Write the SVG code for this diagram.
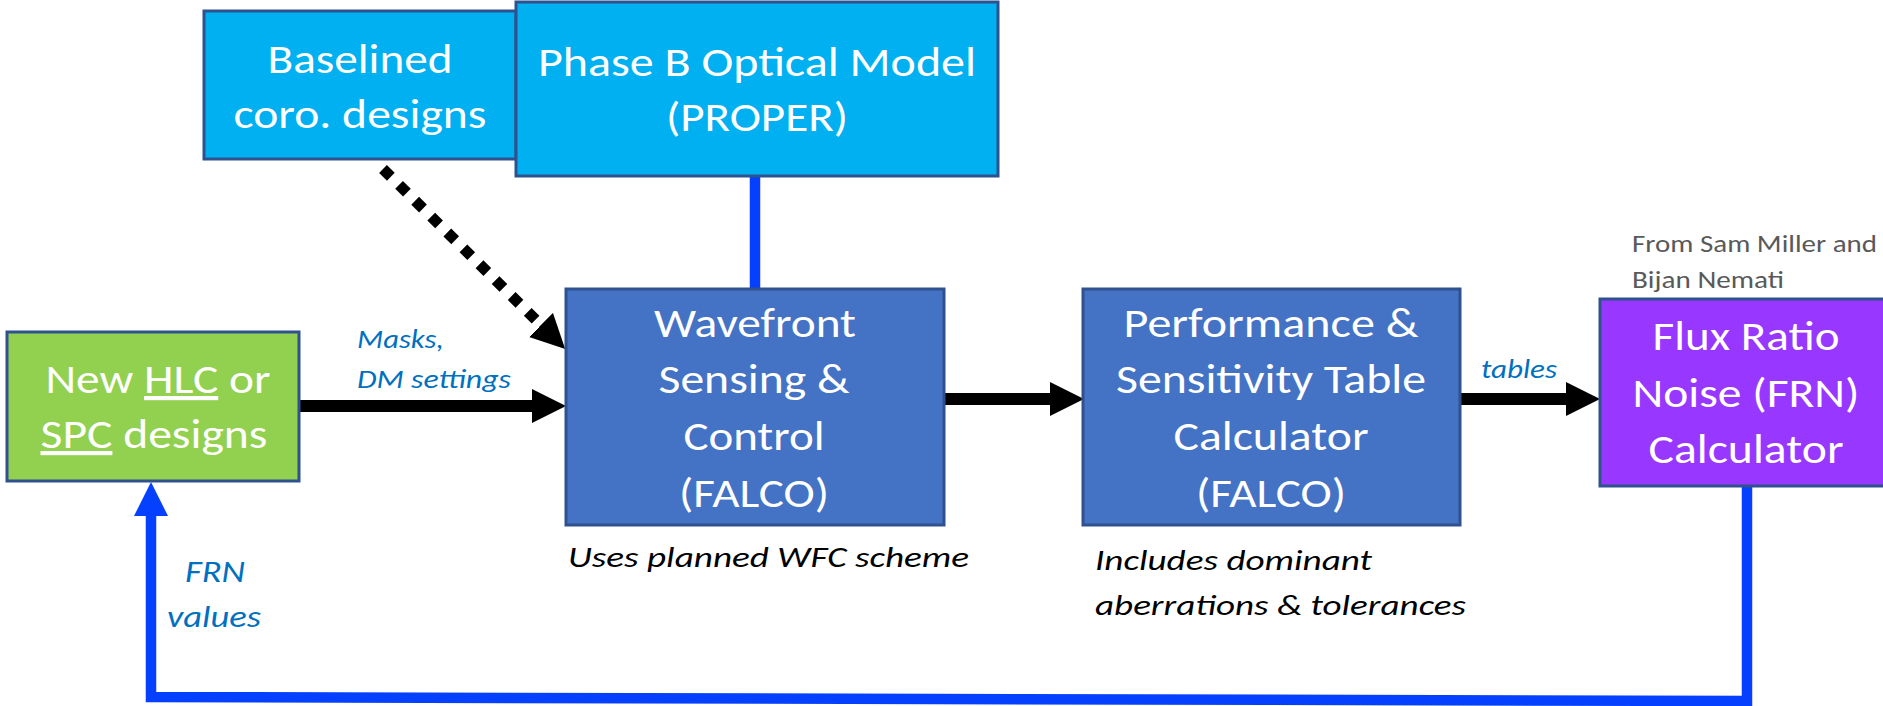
<svg xmlns="http://www.w3.org/2000/svg" width="1883" height="706" viewBox="0 0 1883 706">
  <defs>
    <style>
      .box { stroke: #2F528F; stroke-width: 3; }
      .lt { fill: #00B0F0; }
      .dk { fill: #4472C4; }
      .gr { fill: #92D050; }
      .pu { fill: #9737FF; }
      .bt { font-family: Carlito, Lato, "Liberation Sans", sans-serif; font-size: 42px; fill: #FFFFFF; text-anchor: middle; }
      .lab { font-family: Carlito, Lato, "Liberation Sans", sans-serif; font-style: italic; fill: #0070C0; font-size: 26px; }
      .note { font-family: Carlito, Lato, "Liberation Sans", sans-serif; font-style: italic; fill: #000000; font-size: 29px; }
      .src { font-family: Carlito, Lato, "Liberation Sans", sans-serif; fill: #595959; font-size: 25px; }
      .blk { stroke: #000000; stroke-width: 12; fill: none; }
      .blu { stroke: #0540FF; stroke-width: 10.5; fill: none; }
    </style>
    <marker id="ahk" viewBox="0 0 34 34" markerWidth="34" markerHeight="34" refX="0" refY="17" orient="auto" markerUnits="userSpaceOnUse">
      <path d="M0,0 L34,17 L0,34 Z" fill="#000000"/>
    </marker>
    <marker id="ahb" viewBox="0 0 34 34" markerWidth="34" markerHeight="34" refX="0" refY="17" orient="auto" markerUnits="userSpaceOnUse">
      <path d="M0,0 L34,17 L0,34 Z" fill="#0540FF"/>
    </marker>
  </defs>
  <rect width="1883" height="706" fill="#FFFFFF"/>

  <g id="connectors">
    <line class="blu" x1="755" y1="170" x2="755" y2="290"/>
    <path class="blu" d="M1747,480 L1747,701 L151,697 L151,516" stroke-linejoin="miter" marker-end="url(#ahb)"/>
    <line class="blk" x1="298" y1="406" x2="532" y2="406" marker-end="url(#ahk)"/>
    <line class="blk" x1="942" y1="399" x2="1050" y2="399" marker-end="url(#ahk)"/>
    <line class="blk" x1="1458" y1="399" x2="1566" y2="399" marker-end="url(#ahk)"/>
    <line x1="383" y1="169" x2="541" y2="325" stroke="#000000" stroke-width="11" stroke-dasharray="11 11.6" marker-end="url(#ahk)"/>
  </g>

  <g id="baselined">
    <rect class="box lt" x="204" y="11" width="312" height="148"/>
    <text class="bt" x="360" y="73" textLength="185" lengthAdjust="spacingAndGlyphs">Baselined</text>
    <text class="bt" x="360" y="128" textLength="253" lengthAdjust="spacingAndGlyphs">coro. designs</text>
  </g>

  <g id="phaseb">
    <rect class="box lt" x="516" y="2" width="482" height="174"/>
    <text class="bt" x="757" y="76" textLength="438" lengthAdjust="spacingAndGlyphs">Phase B Optical Model</text>
    <text class="bt" x="757" y="131" textLength="182" lengthAdjust="spacingAndGlyphs">(PROPER)</text>
  </g>

  <g id="newdesigns">
    <rect class="box gr" x="7" y="332" width="292" height="149"/>
    <text class="bt" x="158" y="393" textLength="225" lengthAdjust="spacingAndGlyphs">New <tspan style="text-decoration:underline">HLC</tspan> or</text>
    <text class="bt" x="154" y="448" textLength="227" lengthAdjust="spacingAndGlyphs"><tspan style="text-decoration:underline">SPC</tspan> designs</text>
  </g>

  <g id="wfsc">
    <rect class="box dk" x="566" y="289" width="378" height="236"/>
    <text class="bt" x="755" y="337" textLength="202" lengthAdjust="spacingAndGlyphs">Wavefront</text>
    <text class="bt" x="754" y="393" textLength="191" lengthAdjust="spacingAndGlyphs">Sensing &amp;</text>
    <text class="bt" x="754" y="450" textLength="141" lengthAdjust="spacingAndGlyphs">Control</text>
    <text class="bt" x="754" y="507" textLength="150" lengthAdjust="spacingAndGlyphs">(FALCO)</text>
  </g>

  <g id="perf">
    <rect class="box dk" x="1083" y="289" width="377" height="236"/>
    <text class="bt" x="1271" y="337" textLength="295" lengthAdjust="spacingAndGlyphs">Performance &amp;</text>
    <text class="bt" x="1271" y="393" textLength="310" lengthAdjust="spacingAndGlyphs">Sensitivity Table</text>
    <text class="bt" x="1271" y="450" textLength="195" lengthAdjust="spacingAndGlyphs">Calculator</text>
    <text class="bt" x="1271" y="507" textLength="150" lengthAdjust="spacingAndGlyphs">(FALCO)</text>
  </g>

  <g id="frn">
    <rect class="box pu" x="1600" y="299" width="296" height="187"/>
    <text class="bt" x="1746" y="350" textLength="187" lengthAdjust="spacingAndGlyphs">Flux Ratio</text>
    <text class="bt" x="1746" y="407" textLength="227" lengthAdjust="spacingAndGlyphs">Noise (FRN)</text>
    <text class="bt" x="1746" y="463" textLength="195" lengthAdjust="spacingAndGlyphs">Calculator</text>
  </g>

  <g id="labels">
    <text class="lab" x="357" y="348" textLength="87" lengthAdjust="spacingAndGlyphs">Masks,</text>
    <text class="lab" x="357" y="388" textLength="154" lengthAdjust="spacingAndGlyphs">DM settings</text>
    <text class="lab" x="1481" y="378" textLength="76" lengthAdjust="spacingAndGlyphs">tables</text>
    <text class="lab" x="185" y="582" style="font-size:31px" textLength="60" lengthAdjust="spacingAndGlyphs">FRN</text>
    <text class="lab" x="167" y="627" style="font-size:31px" textLength="94" lengthAdjust="spacingAndGlyphs">values</text>
    <text class="note" x="568" y="567" textLength="401" lengthAdjust="spacingAndGlyphs">Uses planned WFC scheme</text>
    <text class="note" x="1095" y="570" textLength="277" lengthAdjust="spacingAndGlyphs">Includes dominant</text>
    <text class="note" x="1095" y="615" textLength="371" lengthAdjust="spacingAndGlyphs">aberrations &amp; tolerances</text>
    <text class="src" x="1632" y="252" textLength="245" lengthAdjust="spacingAndGlyphs">From Sam Miller and</text>
    <text class="src" x="1632" y="288" textLength="152" lengthAdjust="spacingAndGlyphs">Bijan Nemati</text>
  </g>
</svg>
